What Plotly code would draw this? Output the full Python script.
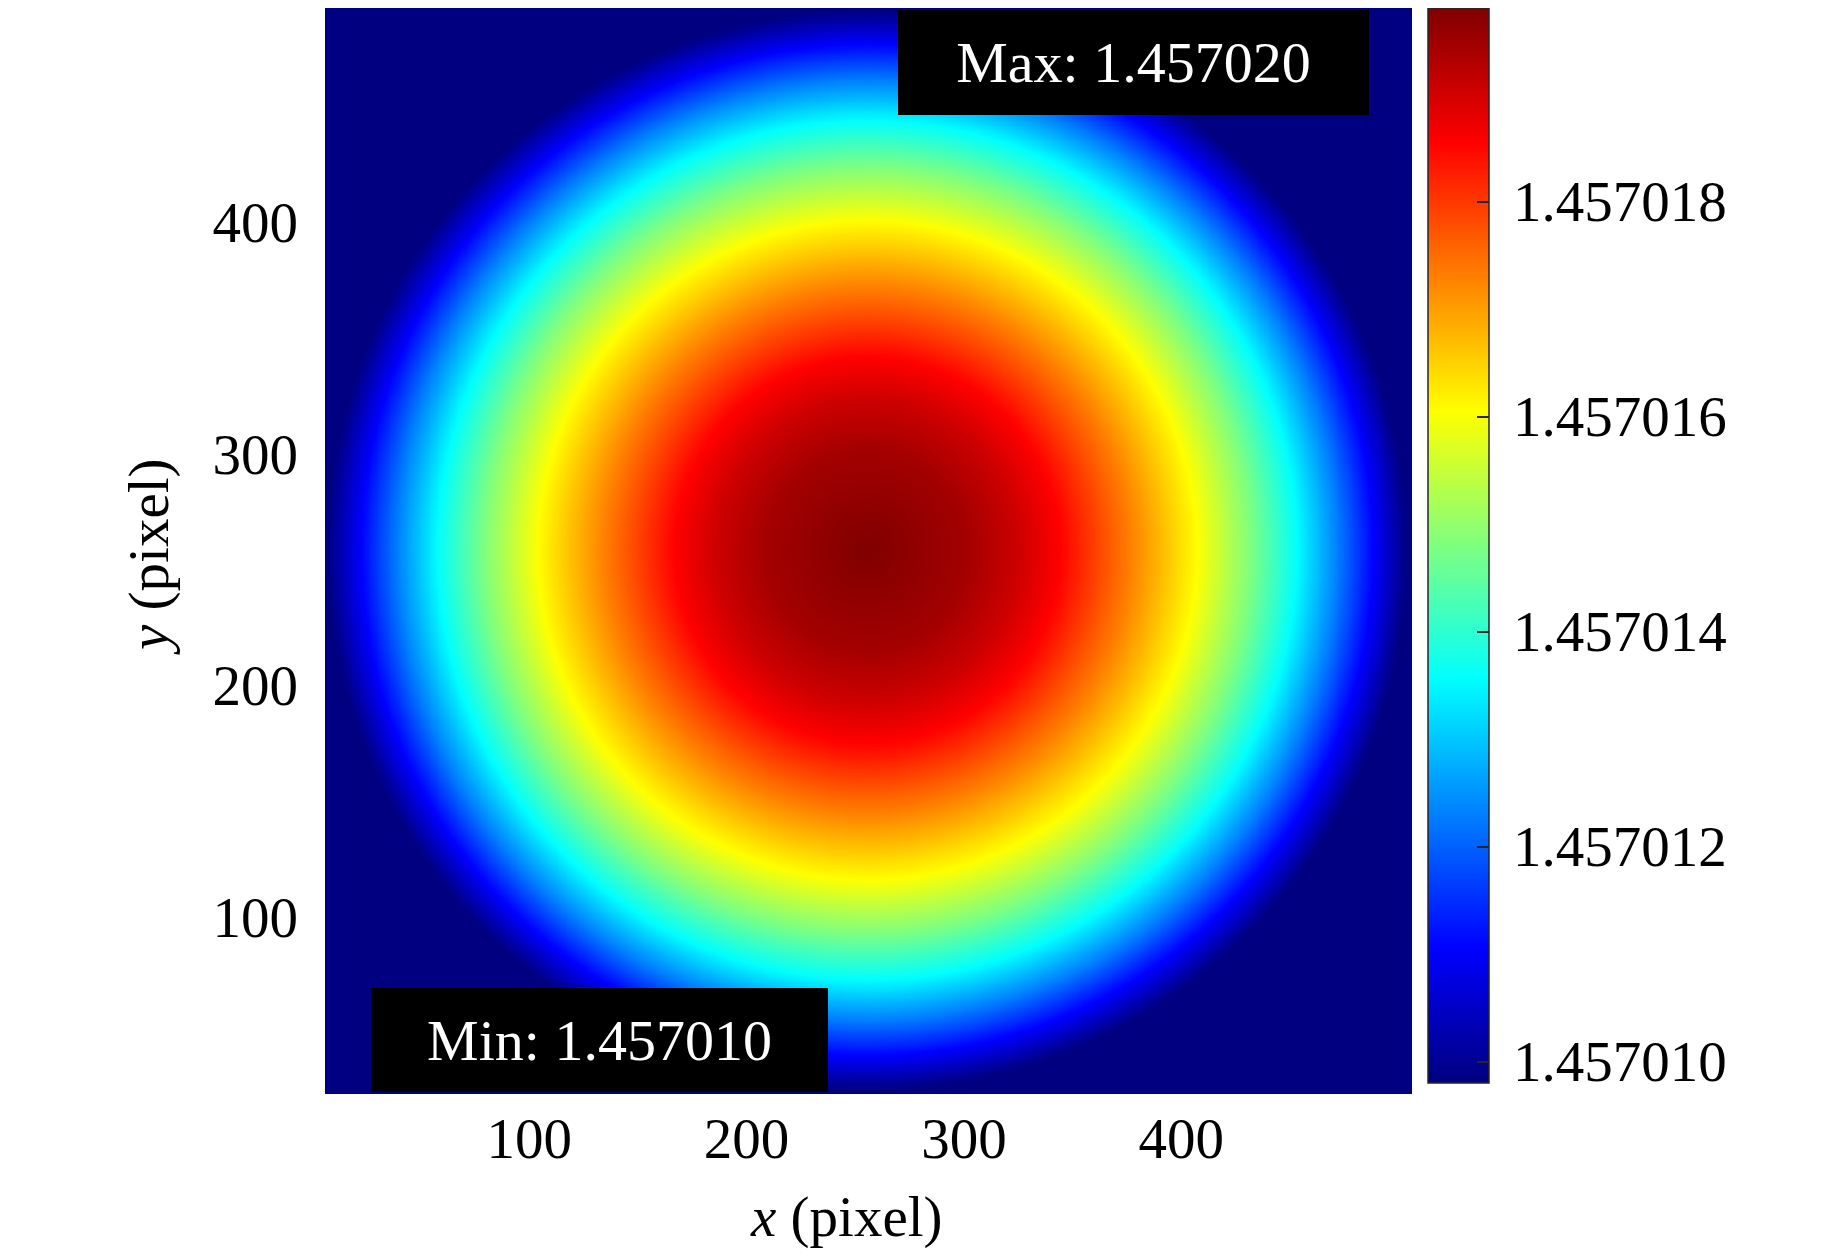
import numpy as np
import plotly.graph_objects as go

# axis extents and ticks (image pixel coordinates)
X_RANGE = [6.0, 506.2]
Y_RANGE = [23.6, 492.3]
X_TICKS = [100, 200, 300, 400]
Y_TICKS = [100, 200, 300, 400]

# colour scale limits and colourbar ticks (refractive index)
C_MIN, C_MAX = 1.4570098, 1.4570198
CB_TICKS = [1.457010, 1.457012, 1.457014, 1.457016, 1.457018]

# beam centre / edge radius in pixels
BEAM_CENTER = [255.4, 258.5]
BEAM_RADIUS = [248.5, 233.0]

# radial index profile (r as fraction of edge radius)
PROFILE_R = [0.0, 0.185, 0.278, 0.357, 0.487, 0.611, 0.709, 0.796, 0.870, 0.937, 1.0]
PROFILE_N = [1.4570198, 1.45701945, 1.45701905, 1.45701855, 1.4570173,
             1.45701605, 1.4570148, 1.45701355, 1.4570123, 1.45701105, 1.4570098]

FONT = "Liberation Serif, Times New Roman, serif"
OFF = 8                      # page body margin
W, H = 1843 - 2 * OFF, 1255 - OFF
L, T = 325 - OFF, 8 - OFF
R, B = W - (1412 - OFF), H - (1094 - OFF)
PW, PH = W - L - R, H - T - B

# matlab-style jet
JET = [
    [0.0, "rgb(0,0,128)"],
    [0.125, "rgb(0,0,255)"],
    [0.375, "rgb(0,255,255)"],
    [0.625, "rgb(255,255,0)"],
    [0.875, "rgb(255,0,0)"],
    [1.0, "rgb(128,0,0)"],
]

# =============================================================================
# Field: rotationally symmetric profile mapped onto the pixel grid
# =============================================================================
xs = np.linspace(X_RANGE[0], X_RANGE[1], 400)
ys = np.linspace(Y_RANGE[0], Y_RANGE[1], 400)
gx, gy = np.meshgrid(xs, ys)
rr = np.hypot((gx - BEAM_CENTER[0]) / BEAM_RADIUS[0],
              (gy - BEAM_CENTER[1]) / BEAM_RADIUS[1])
z = np.interp(rr, PROFILE_R, PROFILE_N)


# screenshot pixel -> paper coords
def px_x(p):
    return (p - OFF - L) / PW


def px_y(p):
    return 1 - (p - OFF - T) / PH


fig = go.Figure(go.Heatmap(
    x=xs, y=ys, z=z,
    colorscale=JET, zmin=C_MIN, zmax=C_MAX, zsmooth="best",
    colorbar=dict(
        thickness=61, thicknessmode="pixels",
        len=1075, lenmode="pixels",
        x=px_x(1428), xanchor="left", xpad=0,
        y=1, yanchor="top", ypad=0,
        tickvals=CB_TICKS, ticktext=["\u2009" + f"{v:.6f}" for v in CB_TICKS],
        ticks="inside", ticklen=12, tickwidth=1.5, tickcolor="#262626",
        outlinecolor="#262626", outlinewidth=1.5,
        tickfont=dict(family=FONT, size=57, color="black"),
    ),
    hoverinfo="skip",
))

fig.update_xaxes(range=X_RANGE, tickvals=X_TICKS, showgrid=False, zeroline=False,
                 showline=False, ticks="", ticklabelstandoff=6,
                 tickfont=dict(family=FONT, size=57, color="black"))
fig.update_yaxes(range=Y_RANGE, tickvals=Y_TICKS, showgrid=False, zeroline=False,
                 showline=False, ticks="", ticklabelstandoff=26,
                 tickfont=dict(family=FONT, size=57, color="black"))

box_font = dict(family=FONT, size=58, color="white")
fig.add_annotation(
    text=f"Max: {z.max():.6f}", xref="paper", yref="paper",
    x=px_x(898), y=px_y(10), xanchor="left", yanchor="top",
    width=471, height=105, bgcolor="black", borderpad=0, borderwidth=0,
    showarrow=False, font=box_font, align="center", valign="middle",
)
fig.add_annotation(
    text=f"Min: {z.min():.6f}", xref="paper", yref="paper",
    x=px_x(371), y=px_y(988), xanchor="left", yanchor="top",
    width=457, height=104, bgcolor="black", borderpad=0, borderwidth=0,
    showarrow=False, font=box_font, align="center", valign="middle",
)

# axis titles
title_font = dict(family=FONT, size=57, color="black")
fig.add_annotation(text="<i>x</i> (pixel)", xref="paper", yref="paper",
                   x=px_x(846), y=px_y(1217), xanchor="center", yanchor="middle",
                   showarrow=False, font=title_font)
fig.add_annotation(text="<i>y</i> (pixel)", xref="paper", yref="paper",
                   x=px_x(149), y=px_y(557), xanchor="center", yanchor="middle",
                   textangle=-90, showarrow=False, font=title_font)

fig.update_layout(
    width=W, height=H,
    margin=dict(l=L, r=R, t=T, b=B, pad=0),
    paper_bgcolor="white", plot_bgcolor="white",
    showlegend=False,
)
fig.write_html("out.html")
